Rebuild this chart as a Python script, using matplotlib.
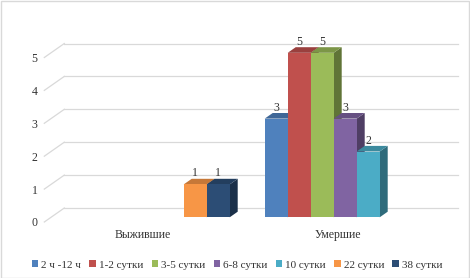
import matplotlib.pyplot as plt
from matplotlib.patches import Patch, Rectangle
import numpy as np

plt.rcParams['font.family'] = ['Liberation Serif', 'DejaVu Serif']

categories = ['Выжившие', 'Умершие']
series = ['2 ч -12 ч', '1-2 сутки', '3-5 сутки', '6-8 сутки', '10 сутки', '22 сутки', '38 сутки']
values = [[0, 3], [0, 5], [0, 5], [0, 3], [0, 2], [1, 0], [1, 0]]
colors = ['#4F81BD', '#C0504D', '#9BBB59', '#8064A2', '#4BACC6', '#F79646', '#2C4D75']
yticks = [0, 1, 2, 3, 4, 5]


def shade(c, f):
    r, g, b = plt.matplotlib.colors.to_rgb(c)
    return (r * f, g * f, b * f)


# pixel geometry of the pseudo 3d chart
W, H = 470, 278
px_x = 196.0   # pixels per category
px_y = 32.9    # pixels per unit
x_left = 44.3  # front edge, x = -0.5
y_zero = 222.0 # front edge, y = 0 (from top)

fig = plt.figure(figsize=(W / 100, H / 100), dpi=100)
ax = fig.add_axes([x_left / W, (H - y_zero) / H, 2 * px_x / W, 5 * px_y / H])
ax.set_xlim(-0.5, 1.5)
ax.set_ylim(0, 5)
for s in ax.spines.values():
    s.set_visible(False)
ax.patch.set_alpha(0)

# offsets (in data units) for depth
depth_dx, depth_dy = 20 / px_x, 14 / px_y   # full floor depth
bar_dx, bar_dy = 6.9 / px_x, 4.7 / px_y    # bars front plane
bd_dx, bd_dy = 8 / px_x, 5.6 / px_y        # bar depth

grid_c = '#D9D9D9'
for v in yticks:
    ax.plot([-0.5, -0.5 + depth_dx], [v, v + depth_dy], color=grid_c, lw=0.9, clip_on=False, zorder=1)
    ax.plot([-0.5 + depth_dx, 1.5 + depth_dx * 1.07], [v + depth_dy, v + depth_dy],
            color=grid_c, lw=0.9, clip_on=False, zorder=1)

w = 23 / px_x
xc = np.arange(len(categories))
n = len(series)
for i in range(len(categories)):
    for k in range(n):
        v = values[k][i]
        if v <= 0:
            continue
        x0 = xc[i] + bar_dx + (k - n / 2) * w
        x1 = x0 + w
        b = bar_dy
        top = b + v
        z = 3 + i * 10 + k
        ax.fill([x1, x1 + bd_dx, x1 + bd_dx, x1], [b, b + bd_dy, top + bd_dy, top],
                color=shade(colors[k], 0.62), lw=0, zorder=z, clip_on=False)
        ax.fill([x0, x1, x1 + bd_dx, x0 + bd_dx], [top, top, top + bd_dy, top + bd_dy],
                color=shade(colors[k], 0.8), lw=0, zorder=z, clip_on=False)
        ax.bar(x0, v, width=w, bottom=b, align='edge', color=colors[k], lw=0, zorder=z, clip_on=False)
        ax.text(x0 + w / 2, top + bd_dy - 0.02, str(v), ha='center', va='bottom',
                fontsize=8.5, color='#333333', zorder=50)

ax.set_yticks(yticks)
ax.set_yticklabels([str(t) for t in yticks])
ax.set_xticks(xc)
ax.set_xticklabels(categories)
ax.tick_params(axis='both', length=0, labelsize=8.5, labelcolor='#333333')
ax.tick_params(axis='y', pad=5)
ax.tick_params(axis='x', pad=5)

handles = [Patch(facecolor=c, edgecolor='none') for c in colors]
fig.legend(handles, series, loc='center', bbox_to_anchor=(237 / W, (H - 265) / H), ncol=7,
           frameon=False, fontsize=8, handlelength=0.6, handleheight=0.6,
           handletextpad=0.25, columnspacing=0.75, labelcolor='#333333')

fig.patches.append(Rectangle((0.5 / W, 0.5 / H), (W - 1.5) / W, (H - 1.5) / H, transform=fig.transFigure,
                             fill=False, edgecolor='#D9D9D9', lw=1))

fig.savefig('out.png', dpi=100)
